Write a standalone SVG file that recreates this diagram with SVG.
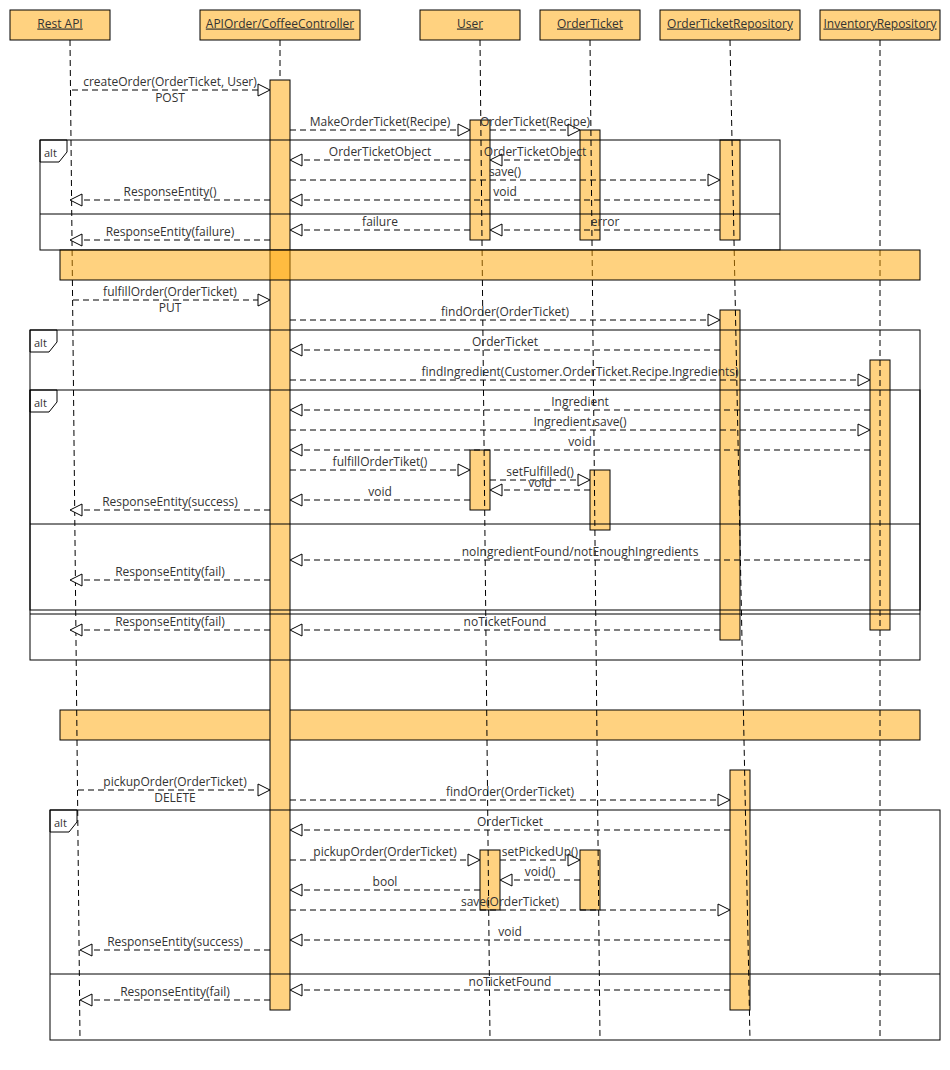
<svg xmlns="http://www.w3.org/2000/svg" width="950" height="1070" viewBox="0 0 950 1070">
<style>
.hdr{fill:#FFD280;stroke:#000;stroke-width:1}
.act{fill:#FFD280;stroke:#000;stroke-width:1}
.bar{fill:#FFA500;fill-opacity:0.5;stroke:#000;stroke-width:1}
.bar2{fill:#FFD280;stroke:#000;stroke-width:1}
.ll{stroke:#000;stroke-width:1;stroke-dasharray:6 4;fill:none}
.frame{fill:none;stroke:#000;stroke-width:1}
.msg{stroke:#000;stroke-width:1;stroke-dasharray:6 4;fill:none;marker-end:url(#open)}
text{font-family:"Open Sans","Noto Sans",sans-serif;fill:#333}
.lbl{font-size:12px;text-anchor:middle}
.ht{font-size:12px;text-anchor:middle;text-decoration:underline}
.alt{font-size:11px}
</style>
<defs>
<marker id="open" markerUnits="userSpaceOnUse" markerWidth="14" markerHeight="14" refX="12" refY="6" orient="auto" viewBox="-1 -1 14 14">
<path d="M0,0 L12,6 L0,12 Z" fill="#fff" stroke="#000" stroke-width="1" stroke-dasharray="none"/>
</marker>
</defs>
<rect width="950" height="1070" fill="#fff"/>

<g id="separator-2"><rect class="bar2" x="60" y="710" width="860" height="30"/></g>

<g id="activations">
<rect class="act" x="270" y="80" width="20" height="930"/>
<rect class="act" x="470" y="120" width="20" height="120"/>
<rect class="act" x="580" y="130" width="20" height="110"/>
<rect class="act" x="720" y="140" width="20" height="100"/>
<rect class="act" x="720" y="310" width="20" height="330"/>
<rect class="act" x="870" y="360" width="20" height="270"/>
<rect class="act" x="470" y="450" width="20" height="60"/>
<rect class="act" x="590" y="470" width="20" height="60"/>
<rect class="act" x="730" y="770" width="20" height="240"/>
<rect class="act" x="480" y="850" width="20" height="60"/>
<rect class="act" x="580" y="850" width="20" height="60"/>
</g>

<g id="node-restapi">
<rect class="hdr" x="10" y="10" width="100" height="30"/>
<text class="ht" x="60" y="27.5">Rest API</text>
<line class="ll" x1="70" y1="40" x2="80" y2="1040"/>
</g>
<g id="node-controller">
<rect class="hdr" x="200" y="10" width="160" height="30"/>
<text class="ht" x="280" y="27.5">APIOrder/CoffeeController</text>
<line class="ll" x1="280" y1="40" x2="280" y2="80"/>
</g>
<g id="node-user">
<rect class="hdr" x="420" y="10" width="100" height="30"/>
<text class="ht" x="470" y="27.5">User</text>
<line class="ll" x1="480" y1="40" x2="490" y2="1040"/>
</g>
<g id="node-orderticket">
<rect class="hdr" x="540" y="10" width="100" height="30"/>
<text class="ht" x="590" y="27.5">OrderTicket</text>
<line class="ll" x1="590" y1="40" x2="600" y2="1040"/>
</g>
<g id="node-orderticketrepository">
<rect class="hdr" x="660" y="10" width="140" height="30"/>
<text class="ht" x="730" y="27.5">OrderTicketRepository</text>
<line class="ll" x1="730" y1="40" x2="750" y2="1040"/>
</g>
<g id="node-inventoryrepository">
<rect class="hdr" x="820" y="10" width="120" height="30"/>
<text class="ht" x="880" y="27.5">InventoryRepository</text>
<line class="ll" x1="880" y1="40" x2="880" y2="1040"/>
</g>

<g id="frame-alt-1">
<rect class="frame" x="40" y="140" width="740" height="110"/>
<line class="frame" x1="40" y1="214" x2="780" y2="214"/>
<path class="frame" d="M40,140 H67 V152 L59,162 H40 Z"/>
<text class="alt" x="44" y="157">alt</text>
</g>
<g id="frame-alt-2">
<rect class="frame" x="30" y="330" width="890" height="330"/>
<line class="frame" x1="30" y1="614" x2="920" y2="614"/>
<path class="frame" d="M30,330 H57 V342 L49,352 H30 Z"/>
<text class="alt" x="34" y="347">alt</text>
</g>
<g id="frame-alt-3">
<rect class="frame" x="30" y="390" width="890" height="220"/>
<line class="frame" x1="30" y1="524" x2="920" y2="524"/>
<path class="frame" d="M30,390 H57 V402 L49,412 H30 Z"/>
<text class="alt" x="34" y="407">alt</text>
</g>
<g id="frame-alt-4">
<rect class="frame" x="50" y="810" width="890" height="230"/>
<line class="frame" x1="50" y1="974" x2="940" y2="974"/>
<path class="frame" d="M50,810 H77 V822 L69,832 H50 Z"/>
<text class="alt" x="54" y="827">alt</text>
</g>

<g id="separator-1"><rect class="bar" x="60" y="250" width="860" height="30"/></g>

<g id="connectors">
<line class="msg" x1="72" y1="90" x2="270" y2="90"/>
<text class="lbl" x="170" y="86">createOrder(OrderTicket, User)</text>
<text class="lbl" x="170" y="101.5">POST</text>
<line class="msg" x1="290" y1="130" x2="470" y2="130"/>
<text class="lbl" x="380" y="126">MakeOrderTicket(Recipe)</text>
<line class="msg" x1="490" y1="130" x2="580" y2="130"/>
<text class="lbl" x="535" y="126">OrderTicket(Recipe)</text>
<line class="msg" x1="470" y1="160" x2="290" y2="160"/>
<text class="lbl" x="380" y="156">OrderTicketObject</text>
<line class="msg" x1="580" y1="160" x2="490" y2="160"/>
<text class="lbl" x="535" y="156">OrderTicketObject</text>
<line class="msg" x1="290" y1="180" x2="720" y2="180"/>
<text class="lbl" x="505" y="176">save()</text>
<line class="msg" x1="720" y1="200" x2="290" y2="200"/>
<text class="lbl" x="505" y="196">void</text>
<line class="msg" x1="270" y1="200" x2="70" y2="200"/>
<text class="lbl" x="170" y="196">ResponseEntity()</text>
<line class="msg" x1="470" y1="230" x2="290" y2="230"/>
<text class="lbl" x="380" y="226">failure</text>
<line class="msg" x1="720" y1="230" x2="490" y2="230"/>
<text class="lbl" x="605" y="226">error</text>
<line class="msg" x1="270" y1="240" x2="70" y2="240"/>
<text class="lbl" x="170" y="236">ResponseEntity(failure)</text>

<line class="msg" x1="73" y1="300" x2="270" y2="300"/>
<text class="lbl" x="170" y="296">fulfillOrder(OrderTicket)</text>
<text class="lbl" x="170" y="311.5">PUT</text>
<line class="msg" x1="290" y1="320" x2="720" y2="320"/>
<text class="lbl" x="505" y="316">findOrder(OrderTicket)</text>
<line class="msg" x1="720" y1="350" x2="290" y2="350"/>
<text class="lbl" x="505" y="346">OrderTicket</text>
<line class="msg" x1="290" y1="380" x2="870" y2="380"/>
<text class="lbl" x="580" y="376">findIngredient(Customer.OrderTicket.Recipe.Ingredients)</text>
<line class="msg" x1="870" y1="410" x2="290" y2="410"/>
<text class="lbl" x="580" y="406">Ingredient</text>
<line class="msg" x1="290" y1="430" x2="870" y2="430"/>
<text class="lbl" x="580" y="426">Ingredient.save()</text>
<line class="msg" x1="870" y1="450" x2="290" y2="450"/>
<text class="lbl" x="580" y="446">void</text>
<line class="msg" x1="290" y1="470" x2="470" y2="470"/>
<text class="lbl" x="380" y="466">fulfillOrderTiket()</text>
<line class="msg" x1="490" y1="480" x2="590" y2="480"/>
<text class="lbl" x="540" y="476">setFulfilled()</text>
<line class="msg" x1="590" y1="490" x2="490" y2="490"/>
<text class="lbl" x="540" y="486.5">void</text>
<line class="msg" x1="470" y1="500" x2="290" y2="500"/>
<text class="lbl" x="380" y="496">void</text>
<line class="msg" x1="270" y1="510" x2="70" y2="510"/>
<text class="lbl" x="170" y="506">ResponseEntity(success)</text>
<line class="msg" x1="870" y1="560" x2="290" y2="560"/>
<text class="lbl" x="580" y="556">noIngredientFound/notEnoughIngredients</text>
<line class="msg" x1="270" y1="580" x2="70" y2="580"/>
<text class="lbl" x="170" y="576">ResponseEntity(fail)</text>
<line class="msg" x1="720" y1="630" x2="290" y2="630"/>
<text class="lbl" x="505" y="626">noTicketFound</text>
<line class="msg" x1="270" y1="630" x2="70" y2="630"/>
<text class="lbl" x="170" y="626">ResponseEntity(fail)</text>

<line class="msg" x1="78" y1="790" x2="270" y2="790"/>
<text class="lbl" x="175" y="786">pickupOrder(OrderTicket)</text>
<text class="lbl" x="175" y="801.5">DELETE</text>
<line class="msg" x1="290" y1="800" x2="730" y2="800"/>
<text class="lbl" x="510" y="796">findOrder(OrderTicket)</text>
<line class="msg" x1="730" y1="830" x2="290" y2="830"/>
<text class="lbl" x="510" y="826">OrderTicket</text>
<line class="msg" x1="290" y1="860" x2="480" y2="860"/>
<text class="lbl" x="385" y="856">pickupOrder(OrderTicket)</text>
<line class="msg" x1="500" y1="860" x2="580" y2="860"/>
<text class="lbl" x="540" y="856">setPickedUp()</text>
<line class="msg" x1="580" y1="880" x2="500" y2="880"/>
<text class="lbl" x="540" y="876">void()</text>
<line class="msg" x1="480" y1="890" x2="290" y2="890"/>
<text class="lbl" x="385" y="886">bool</text>
<line class="msg" x1="290" y1="910" x2="730" y2="910"/>
<text class="lbl" x="510" y="906">save(OrderTicket)</text>
<line class="msg" x1="730" y1="940" x2="290" y2="940"/>
<text class="lbl" x="510" y="936">void</text>
<line class="msg" x1="270" y1="950" x2="80" y2="950"/>
<text class="lbl" x="175" y="946">ResponseEntity(success)</text>
<line class="msg" x1="730" y1="990" x2="290" y2="990"/>
<text class="lbl" x="510" y="986">noTicketFound</text>
<line class="msg" x1="270" y1="1000" x2="80" y2="1000"/>
<text class="lbl" x="175" y="996">ResponseEntity(fail)</text>
</g>
</svg>
